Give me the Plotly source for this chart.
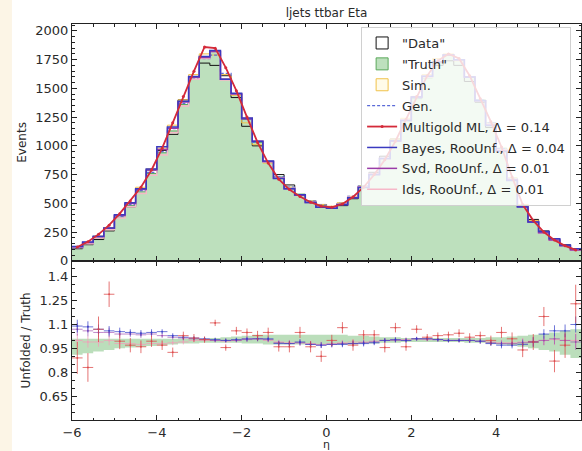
import numpy as np
import plotly.graph_objects as go

# ---------------- data ----------------
eta_lo, eta_hi, n_bins = -6.0, 6.0, 48

truth = [115, 150, 200, 270, 380, 480, 600, 760, 940, 1130, 1360, 1580, 1760, 1820,
         1580, 1450, 1230, 1030, 860, 730, 640, 580, 520, 480, 470, 500, 560, 650,
         760, 890, 1040, 1220, 1410, 1590, 1720, 1790, 1750, 1600, 1400, 1200, 980,
         720, 480, 340, 245, 180, 130, 95]
data = [105, 140, 185, 260, 395, 470, 620, 790, 960, 1100, 1400, 1600, 1720, 1700,
        1610, 1420, 1170, 1000, 860, 750, 660, 570, 510, 490, 460, 480, 540, 640,
        770, 910, 1060, 1230, 1420, 1600, 1700, 1740, 1700, 1560, 1380, 1160, 960,
        700, 490, 360, 260, 185, 140, 100]
sim = [120, 155, 215, 290, 400, 500, 640, 800, 980, 1180, 1400, 1620, 1800, 1790,
       1620, 1440, 1200, 1010, 850, 720, 640, 570, 520, 490, 475, 505, 560, 650,
       760, 890, 1060, 1240, 1430, 1620, 1760, 1800, 1740, 1600, 1390, 1190, 970,
       720, 490, 350, 250, 185, 135, 100]
gen = [112, 150, 205, 280, 385, 490, 610, 770, 950, 1150, 1370, 1590, 1760, 1790,
       1630, 1450, 1230, 1030, 860, 730, 640, 575, 520, 485, 470, 500, 560, 650,
       760, 890, 1045, 1225, 1415, 1600, 1730, 1790, 1750, 1600, 1400, 1200, 975,
       715, 480, 340, 245, 180, 130, 95]
multigold = [120, 165, 230, 310, 410, 520, 640, 790, 980, 1200, 1430, 1650, 1860, 1850,
             1680, 1480, 1250, 1030, 850, 710, 620, 560, 510, 475, 465, 495, 555, 640,
             750, 880, 1040, 1230, 1430, 1610, 1740, 1800, 1760, 1610, 1410, 1210, 990,
             730, 490, 350, 250, 180, 130, 95]

# ratios Unfolded / Truth (bottom panel)
r_multigold = [0.89, 0.83, 1.07, 1.29, 0.995, 0.97, 0.96, 0.995, 0.97, 0.925, 1.03, 1.015,
               1.005, 1.11, 0.955, 1.06, 1.05, 1.03, 1.05, 0.96, 0.96, 1.05, 0.96, 0.90,
               1.0, 1.08, 0.97, 1.035, 1.035, 0.955, 1.08, 0.96, 1.07, 1.02, 1.03, 1.035,
               1.045, 1.02, 1.03, 1.0, 1.05, 1.01, 0.94, 0.99, 1.15, 0.87, 0.97, 1.23]
e_multigold = [0.10, 0.09, 0.08, 0.08, 0.05, 0.045, 0.04, 0.035, 0.03, 0.03, 0.025, 0.025,
               0.02, 0.02, 0.02, 0.025, 0.025, 0.03, 0.03, 0.03, 0.035, 0.035, 0.035, 0.035,
               0.035, 0.035, 0.035, 0.03, 0.03, 0.03, 0.03, 0.025, 0.025, 0.02, 0.02, 0.02,
               0.025, 0.025, 0.025, 0.03, 0.035, 0.04, 0.045, 0.05, 0.06, 0.07, 0.08, 0.12]
r_bayes = [1.09, 1.085, 1.07, 1.06, 1.055, 1.05, 1.045, 1.05, 1.055, 1.03, 1.02, 1.015,
           1.01, 1.005, 1.0, 1.005, 1.01, 1.01, 1.01, 0.98, 0.98, 0.99, 0.975, 0.97,
           0.975, 0.975, 0.98, 0.98, 0.985, 1.0, 1.005, 1.0, 1.01, 1.01, 1.005, 1.0,
           1.0, 1.0, 0.995, 0.98, 0.97, 0.97, 0.975, 0.99, 1.04, 1.06, 1.06, 1.1]
r_svd = [1.07, 1.06, 1.05, 1.05, 1.04, 1.04, 1.035, 1.04, 1.03, 1.02, 1.015, 1.01,
         1.005, 1.0, 1.0, 1.0, 1.005, 1.01, 1.005, 0.985, 0.98, 0.985, 0.975, 0.97,
         0.975, 0.98, 0.98, 0.985, 0.99, 1.0, 1.0, 1.0, 1.01, 1.01, 1.005, 1.0,
         1.0, 1.0, 0.995, 0.985, 0.98, 0.98, 0.985, 0.99, 1.0, 1.01, 1.0, 0.99]
r_ids = [1.0, 0.99, 0.99, 1.0, 0.98, 0.98, 0.975, 0.98, 0.98, 0.985, 0.99, 1.0,
         1.0, 1.0, 0.995, 1.0, 1.01, 1.01, 1.0, 0.99, 0.985, 0.985, 0.98, 0.975,
         0.98, 0.985, 0.99, 0.99, 0.995, 1.0, 1.005, 1.005, 1.01, 1.005, 1.005, 1.0,
         1.0, 1.0, 0.995, 0.99, 0.985, 0.985, 0.99, 0.995, 1.0, 1.005, 1.0, 1.0]
e_unf = [0.04, 0.035, 0.03, 0.03, 0.025, 0.02, 0.02, 0.02, 0.015, 0.015, 0.015, 0.012,
         0.012, 0.012, 0.012, 0.012, 0.015, 0.015, 0.015, 0.015, 0.018, 0.018, 0.018, 0.018,
         0.018, 0.018, 0.018, 0.018, 0.015, 0.015, 0.015, 0.015, 0.012, 0.012, 0.012, 0.012,
         0.012, 0.015, 0.015, 0.015, 0.02, 0.02, 0.025, 0.03, 0.03, 0.035, 0.04, 0.05]
band_lo = [0.91, 0.92, 0.93, 0.94, 0.95, 0.955, 0.96, 0.965, 0.97, 0.975, 0.98, 0.98,
           0.985, 0.985, 0.985, 0.985, 0.98, 0.98, 0.975, 0.975, 0.975, 0.975, 0.975, 0.975,
           0.975, 0.975, 0.975, 0.98, 0.98, 0.985, 0.985, 0.99, 0.99, 0.99, 0.99, 0.99,
           0.99, 0.985, 0.985, 0.98, 0.975, 0.97, 0.96, 0.95, 0.94, 0.93, 0.91, 0.89]
band_hi = [1.01, 1.01, 1.01, 1.01, 1.01, 1.01, 1.01, 1.01, 1.01, 1.01, 1.01, 1.01,
           1.01, 1.015, 1.02, 1.025, 1.03, 1.035, 1.035, 1.035, 1.035, 1.035, 1.035, 1.035,
           1.035, 1.035, 1.03, 1.03, 1.025, 1.02, 1.02, 1.015, 1.015, 1.015, 1.015, 1.015,
           1.015, 1.015, 1.015, 1.02, 1.02, 1.025, 1.03, 1.035, 1.04, 1.05, 1.06, 1.07]

labels = ['"Data"', '"Truth"', 'Sim.', 'Gen.', 'Multigold ML, Δ = 0.14',
          'Bayes, RooUnf., Δ = 0.04', 'Svd, RooUnf., Δ = 0.01', 'Ids, RooUnf., Δ = 0.01']
title = "ljets ttbar Eta"
x_title = "η"

# ---------------- derived ----------------
edges = np.linspace(eta_lo, eta_hi, n_bins + 1)
centers = 0.5 * (edges[:-1] + edges[1:])
half_w = 0.5 * (edges[1] - edges[0])
truth_a = np.array(truth)
bayes = truth_a * np.array(r_bayes)
svd = truth_a * np.array(r_svd)
ids = truth_a * np.array(r_ids)


def sx():
    return list(edges)


def sy(v):
    v = list(v)
    return v + [v[-1]]


C_TRUTH_F = "#bde0bd"
C_TRUTH_L = "#5aa85a"
C_DATA = "#111111"
C_SIM = "#f0c24a"
C_GEN = "#5a6ad8"
C_MG = "#d42a3a"
C_BAY = "#3a3ac0"
C_SVD = "#9a3ca8"
C_IDS = "#f6b8c8"

fig = go.Figure()

# top panel
fig.add_trace(go.Scatter(x=sx(), y=sy(truth), line_shape="hv", fill="tozeroy",
                         fillcolor=C_TRUTH_F, line=dict(color=C_TRUTH_L, width=1),
                         mode="lines", showlegend=False, xaxis="x", yaxis="y"))
fig.add_trace(go.Scatter(x=sx(), y=sy(data), line_shape="hv", mode="lines",
                         line=dict(color=C_DATA, width=1), showlegend=False))
fig.add_trace(go.Scatter(x=sx(), y=sy(sim), line_shape="hv", mode="lines",
                         line=dict(color=C_SIM, width=1), showlegend=False))
fig.add_trace(go.Scatter(x=sx(), y=sy(gen), line_shape="hv", mode="lines",
                         line=dict(color=C_GEN, width=1.3, dash="3px,2px"),
                         name=labels[3], legendrank=4, legendgroup="g4"))
fig.add_trace(go.Scatter(x=sx(), y=sy(ids), line_shape="hv", mode="lines",
                         line=dict(color=C_IDS, width=1.5), name=labels[7], legendrank=8,
                         legendgroup="g8"))
fig.add_trace(go.Scatter(x=sx(), y=sy(svd), line_shape="hv", mode="lines",
                         line=dict(color=C_SVD, width=1.5), name=labels[6], legendrank=7,
                         legendgroup="g7"))
fig.add_trace(go.Scatter(x=sx(), y=sy(bayes), line_shape="hv", mode="lines",
                         line=dict(color=C_BAY, width=1.5), name=labels[5], legendrank=6,
                         legendgroup="g6"))
fig.add_trace(go.Scatter(x=centers, y=multigold, mode="lines+markers",
                         line=dict(color=C_MG, width=1.8), marker=dict(size=3, color=C_MG),
                         name=labels[4], legendrank=5, legendgroup="g5"))

# legend proxies (boxes)
for lab, fc, lc, rk in [(labels[0], "rgba(255,255,255,0)", C_DATA, 1),
                        (labels[1], C_TRUTH_F, C_TRUTH_L, 2),
                        (labels[2], "rgba(255,245,200,0.4)", C_SIM, 3)]:
    fig.add_trace(go.Bar(x=[None], y=[None], name=lab, legendrank=rk,
                         legendgroup="g%d" % rk,
                         marker=dict(color=fc, line=dict(color=lc, width=1))))

# bottom panel
fig.add_trace(go.Scatter(x=sx(), y=sy(band_lo), line_shape="hv", mode="lines",
                         line=dict(width=0, color="rgba(0,0,0,0)"), showlegend=False,
                         xaxis="x2", yaxis="y2"))
fig.add_trace(go.Scatter(x=sx(), y=sy(band_hi), line_shape="hv", mode="lines",
                         fill="tonexty", fillcolor="rgba(150,205,150,0.65)",
                         line=dict(width=0, color="rgba(0,0,0,0)"), showlegend=False,
                         xaxis="x2", yaxis="y2"))


def ratio_trace(r, e, col):
    return go.Scatter(x=centers, y=r, mode="markers",
                      marker=dict(size=2, color=col),
                      error_x=dict(type="constant", value=half_w, color=col, thickness=1, width=0),
                      error_y=dict(type="data", array=e, color=col, thickness=1, width=0),
                      showlegend=False, xaxis="x2", yaxis="y2")


fig.add_trace(ratio_trace(r_ids, e_unf, "rgba(240,160,185,0.8)"))
fig.add_trace(ratio_trace(r_svd, e_unf, "rgba(150,60,170,0.6)"))
fig.add_trace(ratio_trace(r_bayes, e_unf, "rgba(50,60,200,0.7)"))
fig.add_trace(ratio_trace(r_multigold, e_multigold, "rgba(220,70,70,0.75)"))

FONT = "DejaVu Sans"
TXT = "#2a2a2a"
FS = 13
axis_common = dict(showline=True, linecolor="#222", linewidth=1, mirror="allticks",
                   ticks="inside", ticklen=5, tickcolor="#222", zeroline=False,
                   showgrid=False, automargin=False,
                   tickfont=dict(family=FONT, size=FS, color=TXT))

fig.update_layout(
    width=582, height=451,
    margin=dict(l=72, r=1, t=24, b=31),
    paper_bgcolor="white", plot_bgcolor="white",
    font=dict(family=FONT, size=FS, color=TXT),
    title=dict(text=title, x=0.5, xref="paper", xanchor="center", y=0.972, yanchor="middle",
               font=dict(family=FONT, size=12, color=TXT)),
    barmode="overlay",
    xaxis=dict(domain=[0, 1], anchor="y", range=[-6, 6], showticklabels=False,
               tickvals=[-6, -4, -2, 0, 2, 4, 6],
               minor=dict(ticks="inside", ticklen=2.5, dtick=0.5, tickcolor="#222"),
               **axis_common),
    yaxis=dict(domain=[0.402, 1], anchor="x", range=[0, 2060],
               tickvals=[0, 250, 500, 750, 1000, 1250, 1500, 1750, 2000],
               minor=dict(ticks="inside", ticklen=2.5, dtick=50, tickcolor="#222"),
               title=dict(text="Events", standoff=6, font=dict(family=FONT, size=12, color=TXT)),
               **axis_common),
    xaxis2=dict(domain=[0, 1], anchor="y2", range=[-6, 6], matches="x",
                tickvals=[-6, -4, -2, 0, 2, 4, 6],
                minor=dict(ticks="inside", ticklen=2.5, dtick=0.5, tickcolor="#222"),
                **axis_common),
    yaxis2=dict(domain=[0, 0.402], anchor="x2", range=[0.5, 1.5],
                tickvals=[0.65, 0.8, 0.95, 1.1, 1.25, 1.4],
                ticktext=["0.65", "0.8", "0.95", "1.1", "1.25", "1.4"],
                minor=dict(ticks="inside", ticklen=2.5, dtick=0.05, tickcolor="#222"),
                title=dict(text="Unfolded / Truth", standoff=6,
                           font=dict(family=FONT, size=12, color=TXT)),
                **axis_common),
    legend=dict(x=0.568, y=0.9924, xanchor="left", yanchor="top",
                bgcolor="rgba(255,255,255,0.82)", bordercolor="#d0d0d0", borderwidth=1,
                font=dict(family=FONT, size=FS, color=TXT), itemwidth=30,
                traceorder="grouped", tracegroupgap=1),
    annotations=[dict(text=x_title, xref="paper", yref="paper", x=0.5, y=-0.062,
                      xanchor="center", yanchor="middle", showarrow=False,
                      font=dict(family=FONT, size=11, color=TXT))],
    shapes=[dict(type="rect", xref="paper", yref="paper", x0=-0.1415, x1=-0.118,
                 y0=-0.08, y1=1.07, fillcolor="#fcf5e6", line=dict(width=0), layer="below")],
)

fig.write_html("out.html", config={"displayModeBar": False},
               post_script="document.body.style.margin='0px';")
